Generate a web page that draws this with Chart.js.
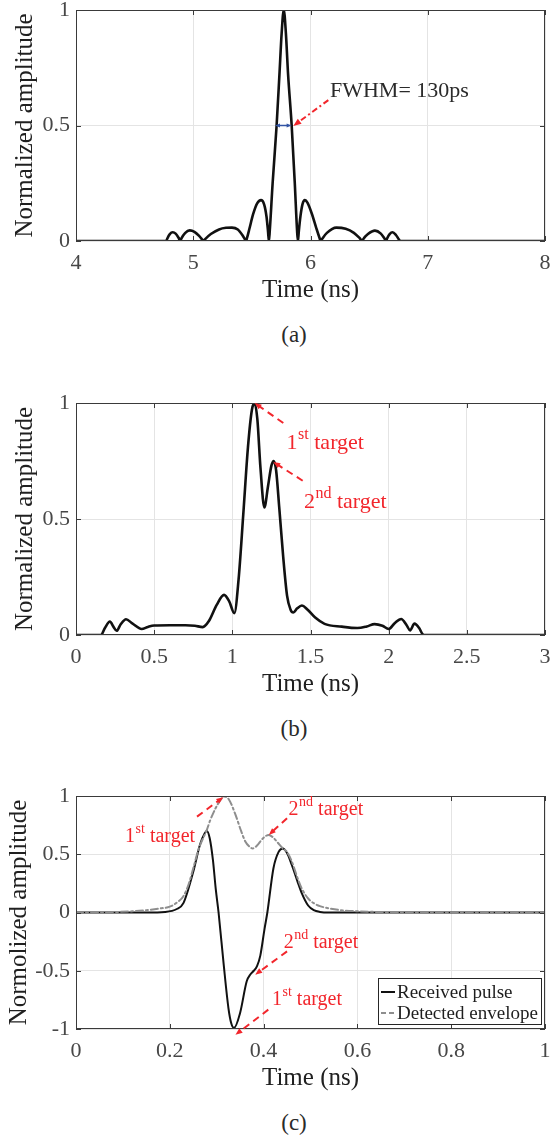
<!DOCTYPE html>
<html lang="en">
<head>
<meta charset="UTF-8">
<title>Pulse responses</title>
<script src="https://cdn.jsdelivr.net/npm/chart.js@4.4.1/dist/chart.umd.min.js"></script>
<style>
    body { margin: 0; background: #fff; }
    #page { position: relative; width: 550px; height: 1139px; overflow: hidden; }
    .panel { position: absolute; left: 0; }
    .cap { position: absolute; left: 254px; width: 80px; text-align: center;
           font: 23px "Liberation Serif", serif; line-height: 24px; color: #2a2a2a; }
</style>
</head>
<body>
<div id="page">
    <div class="panel" style="top:-20px"><canvas id="chartA" width="550" height="331"></canvas></div>
    <div class="cap" style="top:323px">(a)</div>
    <div class="panel" style="top:373px"><canvas id="chartB" width="550" height="332"></canvas></div>
    <div class="cap" style="top:717px">(b)</div>
    <div class="panel" style="top:766px"><canvas id="chartC" width="550" height="333"></canvas></div>
    <div class="cap" style="top:1111px">(c)</div>
</div>
<script>
    // (a) compressed pulse
    const timeA = [4, 4.77, 4.778, 4.80, 4.825, 4.85, 4.875, 4.89, 4.898, 4.93, 4.97, 5.01, 5.05, 5.078, 5.086,
        5.095, 5.15, 5.22, 5.28, 5.33, 5.38, 5.42, 5.443, 5.45, 5.458, 5.48, 5.51, 5.545, 5.578, 5.605, 5.625,
        5.638, 5.645, 5.652, 5.677, 5.711, 5.735, 5.754, 5.772, 5.79, 5.809, 5.8395, 5.866, 5.886, 5.893, 5.9,
        5.915, 5.932, 5.952, 5.975, 6.01, 6.05, 6.078, 6.087, 6.095, 6.14, 6.22, 6.3, 6.37, 6.42, 6.442, 6.45,
        6.49, 6.55, 6.6, 6.632, 6.645, 6.652, 6.675, 6.70, 6.73, 6.755, 6.765, 8];
    const ampA = [0, 0, 0.01, 0.03, 0.038, 0.032, 0.014, 0, 0.01, 0.034, 0.046, 0.04, 0.022, 0.005, 0,
        0.005, 0.03, 0.05, 0.057, 0.058, 0.05, 0.025, 0.005, 0, 0.012, 0.055, 0.115, 0.163, 0.177, 0.158, 0.105,
        0.04, 0, 0.04, 0.25, 0.5, 0.72, 0.9, 1.0, 0.9, 0.72, 0.5, 0.25, 0.04, 0, 0.04,
        0.11, 0.16, 0.177, 0.165, 0.12, 0.055, 0.012, 0, 0.006, 0.035, 0.058, 0.053, 0.035, 0.012, 0, 0.008,
        0.03, 0.045, 0.032, 0.01, 0, 0.01, 0.03, 0.038, 0.025, 0.006, 0, 0];
    const xTicksA = [4, 5, 6, 7, 8];
    const xLabelsA = ['4', '5', '6', '7', '8'];
    const yTicksA = [0, 0.5, 1];
    const yLabelsA = ['0', '0.5', '1'];

    // (b) two close targets
    const timeB = [0, 0.16, 0.185, 0.217, 0.24, 0.26, 0.285, 0.32, 0.36, 0.42, 0.46, 0.5, 0.6, 0.7, 0.76, 0.81,
        0.85, 0.9, 0.947, 0.98, 1.013, 1.04, 1.07, 1.10, 1.125, 1.142, 1.16, 1.18, 1.205, 1.228, 1.25, 1.265,
        1.28, 1.30, 1.325, 1.35, 1.372, 1.39, 1.415, 1.445, 1.48, 1.53, 1.59, 1.7, 1.8, 1.86, 1.91, 1.96, 2.0,
        2.04, 2.08, 2.115, 2.137, 2.165, 2.195, 2.215, 2.222, 3];
    const ampB = [0, 0, 0.03, 0.058, 0.035, 0.018, 0.045, 0.068, 0.05, 0.026, 0.035, 0.041, 0.042, 0.042, 0.04, 0.034,
        0.06, 0.13, 0.173, 0.145, 0.094, 0.24, 0.52, 0.81, 0.97, 1.0, 0.93, 0.72, 0.55, 0.64, 0.73, 0.75,
        0.71, 0.55, 0.34, 0.17, 0.11, 0.097, 0.115, 0.127, 0.11, 0.075, 0.048, 0.036, 0.03, 0.037, 0.047, 0.04, 0.026,
        0.052, 0.069, 0.042, 0.02, 0.049, 0.03, 0.005, 0, 0];
    const xTicksB = [0, 0.5, 1, 1.5, 2, 2.5, 3];
    const xLabelsB = ['0', '0.5', '1', '1.5', '2', '2.5', '3'];
    const yTicksB = [0, 0.5, 1];
    const yLabelsB = ['0', '0.5', '1'];

    // (c) received pulse and its envelope
    const timeC = [0, 0.15, 0.19, 0.215, 0.229, 0.25, 0.265, 0.279, 0.285, 0.292, 0.298, 0.304, 0.315, 0.325,
        0.331, 0.337, 0.35, 0.364, 0.372, 0.379, 0.386, 0.393, 0.402, 0.408, 0.421, 0.432, 0.441, 0.45, 0.46,
        0.472, 0.482, 0.495, 0.507, 0.52, 0.54, 1];
    const pulseC = [0, 0, 0.005, 0.03, 0.08, 0.35, 0.59, 0.70, 0.64, 0.45, 0.2, 0, -0.45, -0.82,
        -0.95, -0.99, -0.86, -0.59, -0.53, -0.5, -0.46, -0.37, -0.14, 0, 0.38, 0.52, 0.55, 0.51, 0.41,
        0.27, 0.16, 0.06, 0.02, 0.005, 0, 0];
    const envTimeC = [0, 0.08, 0.12, 0.15, 0.18, 0.2, 0.215, 0.229, 0.24, 0.25, 0.262, 0.279, 0.286, 0.297,
        0.307, 0.316, 0.326, 0.34, 0.352, 0.361, 0.37, 0.377, 0.386, 0.396, 0.404, 0.411, 0.42, 0.43, 0.441,
        0.45, 0.46, 0.472, 0.482, 0.495, 0.507, 0.52, 0.54, 0.56, 0.6, 0.65, 0.7, 1];
    const envC = [0, 0.004, 0.01, 0.02, 0.035, 0.05, 0.085, 0.14, 0.24, 0.38, 0.55, 0.71, 0.79, 0.89,
        0.96, 0.995, 0.97, 0.84, 0.7, 0.61, 0.565, 0.55, 0.575, 0.625, 0.655, 0.666, 0.645, 0.6, 0.55,
        0.52, 0.44, 0.3, 0.2, 0.12, 0.08, 0.055, 0.035, 0.022, 0.01, 0.004, 0.001, 0];
    const xTicksC = [0, 0.2, 0.4, 0.6, 0.8, 1];
    const xLabelsC = ['0', '0.2', '0.4', '0.6', '0.8', '1'];
    const yTicksC = [-1, -0.5, 0, 0.5, 1];
    const yLabelsC = ['-1', '-0.5', '0', '0.5', '1'];
    const seriesNamesC = ['Received pulse', 'Detected envelope'];

    const SERIF = '"Liberation Serif", "Times New Roman", serif';
    const RED = '#f2262c';
    const GRID = '#e4e4e4';
    const TICK_COLOR = '#474747';
    const TITLE_COLOR = '#202020';

    function pts(xs, ys) {
        return xs.map((x, i) => ({ x: x, y: ys[i] }));
    }

    // axis box with inward tick marks on all four sides
    const framePlugin = {
        id: 'frame',
        afterDatasetsDraw(chart) {
            const { ctx, chartArea: a, scales } = chart;
            ctx.save();
            ctx.strokeStyle = '#3a3a3a';
            ctx.lineWidth = 1;
            ctx.strokeRect(a.left + 0.5, a.top + 0.5, a.right - a.left - 1, a.bottom - a.top - 1);
            ctx.beginPath();
            scales.x.ticks.forEach(t => {
                const px = Math.round(scales.x.getPixelForValue(t.value)) + 0.5;
                ctx.moveTo(px, a.bottom); ctx.lineTo(px, a.bottom - 5);
                ctx.moveTo(px, a.top); ctx.lineTo(px, a.top + 5);
            });
            scales.y.ticks.forEach(t => {
                const py = Math.round(scales.y.getPixelForValue(t.value)) + 0.5;
                ctx.moveTo(a.left, py); ctx.lineTo(a.left + 5, py);
                ctx.moveTo(a.right, py); ctx.lineTo(a.right - 5, py);
            });
            ctx.stroke();
            ctx.restore();
        }
    };

    function arrowHead(ctx, x0, y0, x1, y1, len, half) {
        const ang = Math.atan2(y1 - y0, x1 - x0);
        ctx.beginPath();
        ctx.moveTo(x1, y1);
        ctx.lineTo(x1 - len * Math.cos(ang) + half * Math.sin(ang), y1 - len * Math.sin(ang) - half * Math.cos(ang));
        ctx.lineTo(x1 - len * Math.cos(ang) - half * Math.sin(ang), y1 - len * Math.sin(ang) + half * Math.cos(ang));
        ctx.closePath();
        ctx.fill();
    }

    // arrows and text placed in data coordinates
    function notesPlugin(notes) {
        return {
            id: 'notes',
            afterDraw(chart) {
                const { ctx, scales: { x, y } } = chart;
                ctx.save();
                (notes.arrows || []).forEach(ar => {
                    const x0 = x.getPixelForValue(ar.from[0]), y0 = y.getPixelForValue(ar.from[1]);
                    const x1 = x.getPixelForValue(ar.to[0]), y1 = y.getPixelForValue(ar.to[1]);
                    const len = ar.head || 7;
                    const ang = Math.atan2(y1 - y0, x1 - x0);
                    const trimEnd = len * 0.8;
                    const trimStart = ar.both ? len * 0.8 : 0;
                    ctx.strokeStyle = ar.color;
                    ctx.fillStyle = ar.color;
                    ctx.lineWidth = ar.width;
                    ctx.setLineDash(ar.dash || []);
                    ctx.beginPath();
                    ctx.moveTo(x0 + trimStart * Math.cos(ang), y0 + trimStart * Math.sin(ang));
                    ctx.lineTo(x1 - trimEnd * Math.cos(ang), y1 - trimEnd * Math.sin(ang));
                    ctx.stroke();
                    ctx.setLineDash([]);
                    arrowHead(ctx, x0, y0, x1, y1, len, len * 0.4);
                    if (ar.both) arrowHead(ctx, x1, y1, x0, y0, len, len * 0.4);
                });
                ctx.textBaseline = 'alphabetic';
                ctx.textAlign = 'left';
                (notes.labels || []).forEach(lb => {
                    let px = x.getPixelForValue(lb.at[0]);
                    const py = y.getPixelForValue(lb.at[1]);
                    ctx.fillStyle = lb.color;
                    ctx.font = lb.size + 'px ' + SERIF;
                    ctx.fillText(lb.base, px, py);
                    px += ctx.measureText(lb.base).width;
                    if (lb.sup) {
                        ctx.font = lb.supSize + 'px ' + SERIF;
                        ctx.fillText(lb.sup, px + 0.5, py - lb.size * 0.44);
                        px += ctx.measureText(lb.sup).width + 0.5;
                        ctx.font = lb.size + 'px ' + SERIF;
                        ctx.fillText(lb.rest, px, py);
                    }
                });
                ctx.restore();
            }
        };
    }

    // legend box in the lower right corner of panel (c)
    const legendPlugin = {
        id: 'boxLegend',
        afterDraw(chart) {
            const { ctx, chartArea: a } = chart;
            const w = 163, h = 46;
            const left = a.right - 4 - w, top = a.bottom - 5 - h;
            ctx.save();
            ctx.fillStyle = '#fff';
            ctx.fillRect(left, top, w, h);
            ctx.strokeStyle = '#262626';
            ctx.lineWidth = 1;
            ctx.strokeRect(left + 0.5, top + 0.5, w, h);
            ctx.font = '19px ' + SERIF;
            ctx.textBaseline = 'middle';
            chart.data.datasets.forEach((ds, i) => {
                const cy = top + 14 + i * 21;
                ctx.strokeStyle = ds.borderColor;
                ctx.lineWidth = ds.borderWidth;
                ctx.setLineDash(i === 0 ? [] : [5, 3]);
                ctx.beginPath();
                ctx.moveTo(left + 3, cy);
                ctx.lineTo(left + 17, cy);
                ctx.stroke();
                ctx.setLineDash([]);
                ctx.fillStyle = '#1e1e1e';
                ctx.fillText(ds.label, left + 19, cy + 1);
            });
            ctx.restore();
        }
    };

    function buildOptions(p) {
        return {
            responsive: false,
            animation: false,
            layout: { padding: { top: p.padTop, right: 5, bottom: 6, left: 0 } },
            plugins: { legend: { display: false }, tooltip: { enabled: false } },
            elements: { point: { radius: 0 }, line: { cubicInterpolationMode: 'monotone', borderJoinStyle: 'round', borderCapStyle: 'round' } },
            scales: {
                x: {
                    type: 'linear',
                    min: p.xTicks[0],
                    max: p.xTicks[p.xTicks.length - 1],
                    afterBuildTicks: s => { s.ticks = p.xTicks.map(v => ({ value: v })); },
                    afterFit: s => { s.height = 64; s.paddingLeft = 0; s.paddingRight = 0; },
                    grid: { color: GRID, drawTicks: false },
                    border: { display: false },
                    ticks: {
                        autoSkip: false, maxRotation: 0, padding: 9, color: TICK_COLOR,
                        font: { family: SERIF, size: 22 },
                        callback: (v, i) => p.xLabels[i]
                    },
                    title: {
                        display: true, text: 'Time (ns)', color: TITLE_COLOR, padding: 0,
                        font: { family: SERIF, size: 25 }
                    }
                },
                y: {
                    type: 'linear',
                    min: p.yTicks[0],
                    max: p.yTicks[p.yTicks.length - 1],
                    afterBuildTicks: s => { s.ticks = p.yTicks.map(v => ({ value: v })); },
                    afterFit: s => { s.width = 76; s.paddingTop = 0; s.paddingBottom = 0; },
                    grid: { color: GRID, drawTicks: false },
                    border: { display: false },
                    ticks: {
                        autoSkip: false, padding: 6, color: TICK_COLOR,
                        font: { family: SERIF, size: 22 },
                        callback: (v, i) => p.yLabels[i]
                    },
                    title: {
                        display: true, text: p.yTitle, color: TITLE_COLOR,
                        padding: { top: p.yTitlePad, bottom: 0 },
                        font: { family: SERIF, size: 25 }
                    }
                }
            }
        };
    }

    new Chart(document.getElementById('chartA'), {
        type: 'line',
        data: {
            datasets: [{ data: pts(timeA, ampA), borderColor: '#111', borderWidth: 2.6 }]
        },
        options: buildOptions({
            padTop: 30, xTicks: xTicksA, xLabels: xLabelsA, yTicks: yTicksA, yLabels: yLabelsA,
            yTitle: 'Normalized amplitude', yTitlePad: 10
        }),
        plugins: [framePlugin, notesPlugin({
            arrows: [
                { from: [5.697, 0.5], to: [5.839, 0.5], color: '#3355a5', width: 1.5, head: 5, both: true },
                { from: [6.152, 0.61], to: [5.853, 0.498], color: RED, width: 2, dash: [6, 3, 2, 3], head: 8 }
            ],
            labels: [
                { at: [6.166, 0.625], base: 'FWHM= 130ps', size: 22, color: '#2a2a2a' }
            ]
        })]
    });

    new Chart(document.getElementById('chartB'), {
        type: 'line',
        data: {
            datasets: [{ data: pts(timeB, ampB), borderColor: '#111', borderWidth: 2.6 }]
        },
        options: buildOptions({
            padTop: 30, xTicks: xTicksB, xLabels: xLabelsB, yTicks: yTicksB, yLabels: yLabelsB,
            yTitle: 'Normalized amplitude', yTitlePad: 10
        }),
        plugins: [framePlugin, notesPlugin({
            arrows: [
                { from: [1.326, 0.914], to: [1.142, 1.0], color: RED, width: 2, dash: [7, 5], head: 7 },
                { from: [1.45, 0.665], to: [1.262, 0.746], color: RED, width: 2, dash: [7, 5], head: 7 }
            ],
            labels: [
                { at: [1.347, 0.801], base: '1', sup: 'st', rest: ' target', size: 22, supSize: 16, color: RED },
                { at: [1.458, 0.547], base: '2', sup: 'nd', rest: ' target', size: 22, supSize: 16, color: RED }
            ]
        })]
    });

    new Chart(document.getElementById('chartC'), {
        type: 'line',
        data: {
            datasets: [
                { label: seriesNamesC[0], data: pts(timeC, pulseC), borderColor: '#111', borderWidth: 2, order: 1 },
                { label: seriesNamesC[1], data: pts(envTimeC, envC), borderColor: '#8e8e8e', borderWidth: 2, borderDash: [7, 3, 2, 3], order: 0 }
            ]
        },
        options: buildOptions({
            padTop: 30, xTicks: xTicksC, xLabels: xLabelsC, yTicks: yTicksC, yLabels: yLabelsC,
            yTitle: 'Normolized amplitude', yTitlePad: 4
        }),
        plugins: [framePlugin, legendPlugin, notesPlugin({
            arrows: [
                { from: [0.258, 0.823], to: [0.314, 0.99], color: RED, width: 2, dash: [7, 5], head: 7 },
                { from: [0.45, 0.809], to: [0.411, 0.666], color: RED, width: 2, dash: [7, 5], head: 7 },
                { from: [0.45, -0.334], to: [0.382, -0.534], color: RED, width: 2, dash: [7, 5], head: 7 },
                { from: [0.41, -0.834], to: [0.34, -1.05], color: RED, width: 2, dash: [7, 5], head: 7 }
            ],
            labels: [
                { at: [0.1046, 0.608], base: '1', sup: 'st', rest: ' target', size: 20, supSize: 14, color: RED },
                { at: [0.4533, 0.837], base: '2', sup: 'nd', rest: ' target', size: 20, supSize: 14, color: RED },
                { at: [0.4427, -0.305], base: '2', sup: 'nd', rest: ' target', size: 20, supSize: 14, color: RED },
                { at: [0.4179, -0.791], base: '1', sup: 'st', rest: ' target', size: 20, supSize: 14, color: RED }
            ]
        })]
    });
</script>
</body>
</html>
